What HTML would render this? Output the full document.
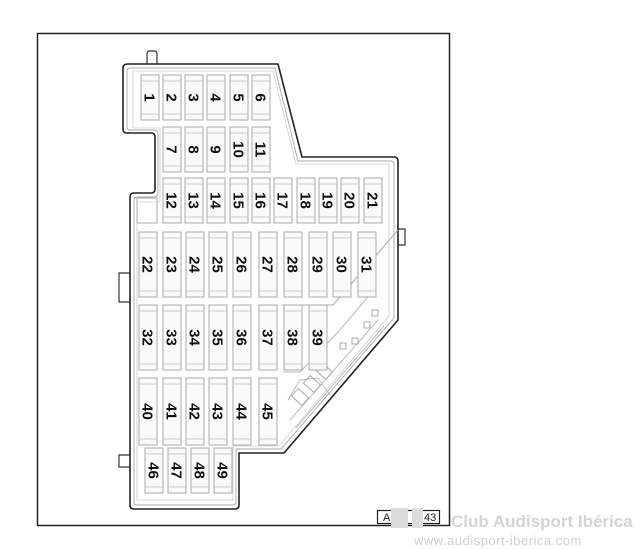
<!DOCTYPE html>
<html><head><meta charset="utf-8"><style>
html,body{margin:0;padding:0;background:#fff;}
svg{display:block}
.f{fill:#fafafa;stroke:#aaa;stroke-width:1}
.l{stroke:#bbb;stroke-width:0.8}
.t{font-family:"Liberation Sans",sans-serif;font-weight:bold;font-size:15px;fill:#111}
</style></head><body>
<svg width="640" height="549" viewBox="0 0 640 549" xmlns="http://www.w3.org/2000/svg">
<rect x="37.5" y="33.5" width="412" height="492" fill="none" stroke="#222" stroke-width="1.5"/>
<path d="M147 64 V54 Q147 51 150 51 H154 Q157 51 157 54 V64" fill="#fff" stroke="#333" stroke-width="1.2"/>
<path d="M130 273 H119 V302 H130" fill="#fff" stroke="#333" stroke-width="1.2"/>
<path d="M130 455 H119 V467 H130" fill="#fff" stroke="#333" stroke-width="1.2"/>
<path d="M398 229 H405 V245 H398" fill="#fff" stroke="#333" stroke-width="1.2"/>
<path d="M128 64 H278 L302 157 H394 Q398 157 398 161 V320 L284 453 H239 V505 Q239 509 235 509 H134 Q130 509 130 505 V197 Q130 193 134 193 H151 Q155 193 155 189 V137 Q155 133 151 133 H127 Q123 133 123 129 V68 Q123 64 128 64 Z" fill="#fff" stroke="#222" stroke-width="1.6"/>
<path d="M130 68 H275 L298 161 H391 Q394 161 394 164 V318 L281 449 H236 V502 Q236 505 233 505 H137 Q134 505 134 502 V200 Q134 197 137 197 H154 Q158 197 158 193 V135 Q158 130 154 130 H130 Q127 130 127 127 V71 Q127 68 130 68 Z" fill="none" stroke="#aaa" stroke-width="0.9"/>
<path d="M133 71 H273 L296 164 H389 V316 L279 446 H233 V500 H137 V202 H160 V128 H133 Z" fill="none" stroke="#ccc" stroke-width="0.8"/>
<rect x="137" y="198" width="20" height="25" fill="none" stroke="#aaa"/>
<path d="M282 305 H333 L398 230" fill="none" stroke="#aaa"/>
<path d="M283 372 H300 L340 330 L372 292" fill="none" stroke="#bbb"/>
<path d="M288 400 L300 380 L318 378 L330 395" fill="none" stroke="#bbb"/>
<path d="M290 420 L378 320 M296 428 L384 326" fill="none" stroke="#bbb"/>
<rect x="295" y="390" width="10" height="14" fill="none" stroke="#aaa" transform="rotate(-48 300 397)"/>
<rect x="307" y="377" width="10" height="14" fill="none" stroke="#aaa" transform="rotate(-48 312 384)"/>
<rect x="319" y="364" width="10" height="14" fill="none" stroke="#aaa" transform="rotate(-48 324 371)"/>
<rect x="340" y="343" width="6" height="6" fill="none" stroke="#aaa"/>
<rect x="352" y="338" width="6" height="6" fill="none" stroke="#aaa"/>
<rect x="364" y="322" width="6" height="6" fill="none" stroke="#aaa"/>
<rect x="372" y="310" width="6" height="6" fill="none" stroke="#aaa"/>
<g id="fuses"></g>
<rect x="377.5" y="510.5" width="62" height="13" fill="#fff" stroke="#222" stroke-width="1.2"/>
<text x="383" y="521" font-family="Liberation Sans,sans-serif" font-size="11" fill="#222">A</text>
<rect x="391" y="508" width="17" height="20" fill="#ddd"/>
<rect x="412" y="508" width="11" height="20" fill="#ddd"/>
<text x="424" y="521" font-family="Liberation Sans,sans-serif" font-size="11" fill="#222">43</text>
<text x="451" y="527" font-family="Liberation Sans,sans-serif" font-weight="bold" font-size="17" fill="#d4d4d4">Club Audisport Ibérica</text>
<text x="414" y="545" font-family="Liberation Sans,sans-serif" font-size="13" fill="#d0d0d0" letter-spacing="0.5">www.audisport-iberica.com</text>
</svg>
<script>
(function(){
var g=document.getElementById('fuses'),h='';
function row(nums,xs,y0,y1,w){for(var i=0;i<nums.length;i++){var cx=xs[i],x=cx-w/2,ym=(y0+y1)/2;
h+='<rect class="f" x="'+x+'" y="'+y0+'" width="'+w+'" height="'+(y1-y0)+'"/>';
h+='<line class="l" x1="'+x+'" x2="'+(x+w)+'" y1="'+(y0+6)+'" y2="'+(y0+6)+'"/>';
h+='<line class="l" x1="'+x+'" x2="'+(x+w)+'" y1="'+(y1-6)+'" y2="'+(y1-6)+'"/>';
h+='<text class="t" text-anchor="middle" transform="translate('+(cx-5.5)+','+ym+') rotate(90)">'+nums[i]+'</text>';}}
var A=[150,172,194,216,239,261,283,306,328,350,373];
row([1,2,3,4,5,6],A.slice(0,6),75,120,18);
row([7,8,9,10,11],A.slice(1,6),127,172,18);
row([12,13,14,15,16,17,18,19,20,21],A.slice(1),178,223,18);
var B=[148,172,195,218,242,268,293,318,342,367];
row([22,23,24,25,26,27,28,29,30,31],B,232,297,18);
row([32,33,34,35,36,37,38,39],B.slice(0,8),305,370,18);
row([40,41,42,43,44,45],B.slice(0,6),378,445,18);
row([46,47,48,49],[154,177,200,223],448,493,18);
g.innerHTML=h;
})();
</script>
</body></html>
